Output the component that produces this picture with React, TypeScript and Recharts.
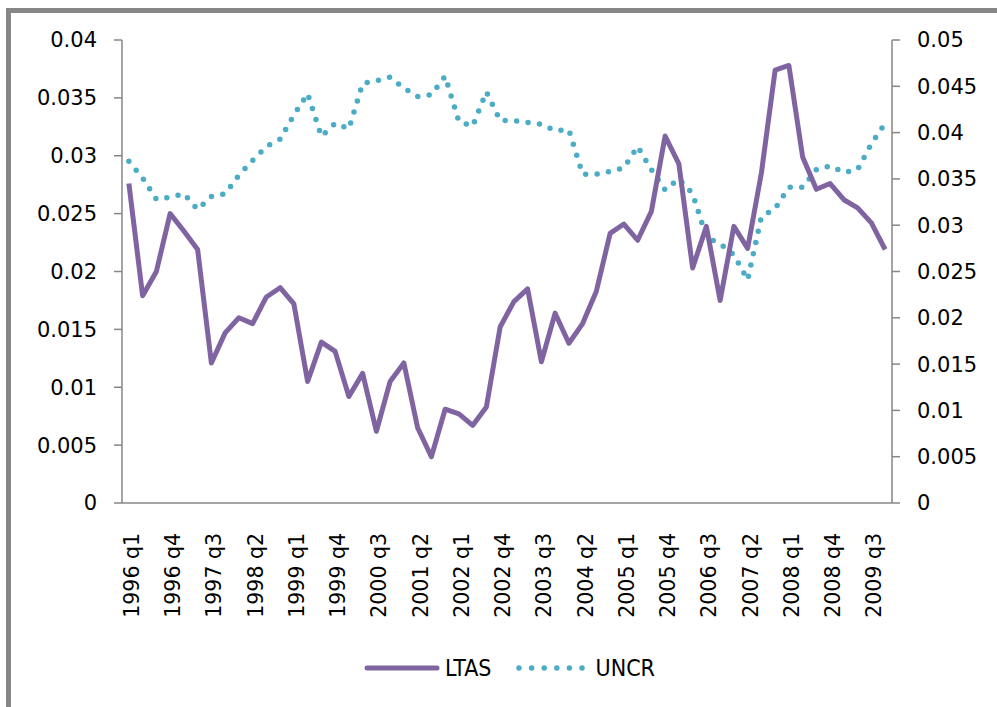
import { LineChart, Line, XAxis, YAxis, Legend } from "recharts";

// 1996 q1 .. 2009 q4
const quarters = [
  "1996 q1", "1996 q2", "1996 q3", "1996 q4",
  "1997 q1", "1997 q2", "1997 q3", "1997 q4",
  "1998 q1", "1998 q2", "1998 q3", "1998 q4",
  "1999 q1", "1999 q2", "1999 q3", "1999 q4",
  "2000 q1", "2000 q2", "2000 q3", "2000 q4",
  "2001 q1", "2001 q2", "2001 q3", "2001 q4",
  "2002 q1", "2002 q2", "2002 q3", "2002 q4",
  "2003 q1", "2003 q2", "2003 q3", "2003 q4",
  "2004 q1", "2004 q2", "2004 q3", "2004 q4",
  "2005 q1", "2005 q2", "2005 q3", "2005 q4",
  "2006 q1", "2006 q2", "2006 q3", "2006 q4",
  "2007 q1", "2007 q2", "2007 q3", "2007 q4",
  "2008 q1", "2008 q2", "2008 q3", "2008 q4",
  "2009 q1", "2009 q2", "2009 q3", "2009 q4",
];

const ltas = [
  0.0276, 0.0179, 0.02, 0.025, 0.0235, 0.0219, 0.0121, 0.0147,
  0.016, 0.0155, 0.0178, 0.0186, 0.0172, 0.0105, 0.0139, 0.0131,
  0.0092, 0.0112, 0.0062, 0.0105, 0.0121, 0.0065, 0.004, 0.0081,
  0.0077, 0.0067, 0.0083, 0.0152, 0.0174, 0.0185, 0.0122, 0.0164,
  0.0138, 0.0155, 0.0183, 0.0233, 0.0241, 0.0227, 0.0252, 0.0317,
  0.0293, 0.0203, 0.0239, 0.0175, 0.0239, 0.022, 0.0285, 0.0374,
  0.0378, 0.0299, 0.0271, 0.0276, 0.0262, 0.0255, 0.0242, 0.0219,
];

const uncr = [
  0.0369, 0.0351, 0.0328, 0.033, 0.0334, 0.0317, 0.0331, 0.0334,
  0.0354, 0.037, 0.0385, 0.0393, 0.0419, 0.0442, 0.0396, 0.041,
  0.0404, 0.0453, 0.0456, 0.046, 0.0448, 0.0439, 0.0441, 0.0461,
  0.0412, 0.0407, 0.0444, 0.0413, 0.0413, 0.0411, 0.0409, 0.0402,
  0.0403, 0.0355, 0.0355, 0.0358, 0.0362, 0.0385, 0.036, 0.0338,
  0.035, 0.0334, 0.0287, 0.028, 0.0268, 0.0241, 0.0309, 0.0318,
  0.0341, 0.0341, 0.036, 0.0364, 0.0357, 0.036, 0.0388, 0.041,
];

const labelTicks = [0, 3, 6, 9, 12, 15, 18, 21, 24, 27, 30, 33, 36, 39, 42, 45, 48, 51, 54];
const leftTicks = [0, 0.005, 0.01, 0.015, 0.02, 0.025, 0.03, 0.035, 0.04];
const rightTicks = [0, 0.005, 0.01, 0.015, 0.02, 0.025, 0.03, 0.035, 0.04, 0.045, 0.05];

const data = quarters.map((q, i) => ({ i, q, LTAS: ltas[i], UNCR: uncr[i] }));
// tick marks sit between quarters
const boundaryTicks = Array.from({ length: quarters.length + 1 }, (_, k) => k - 0.5);

const PURPLE = "#8064A2";
const AQUA = "#4BACC6";
const AXIS = "#868686";
const TICK_FONT = { fontFamily: "DejaVu Sans", fontSize: 21, fill: "#000" };

function QuarterTick(props: any) {
  const { x, y, payload } = props;
  const tx = x + 10;
  const ty = y + 29;
  return (
    <text
      x={tx}
      y={ty}
      transform={`rotate(-90, ${tx}, ${ty})`}
      textAnchor="end"
      fontFamily="DejaVu Sans"
      fontSize={20.5}
      fill="#000"
    >
      {quarters[payload.value]}
    </text>
  );
}

function ChartLegend() {
  const font = { fontFamily: "'Liberation Sans Narrow', 'DejaVu Sans Condensed', sans-serif", fontSize: 23, color: "#000" };
  return (
    <div style={{ display: "flex", alignItems: "center", justifyContent: "center", height: 30, paddingLeft: 22 }}>
      <svg width={76} height={8}>
        <line x1={3} y1={4} x2={73} y2={4} stroke={PURPLE} strokeWidth={5} strokeLinecap="round" />
      </svg>
      <span style={{ ...font, marginLeft: 5 }}>LTAS</span>
      <svg width={70} height={8} style={{ marginLeft: 24 }}>
        <line x1={3} y1={4} x2={67} y2={4} stroke={AQUA} strokeWidth={5.5} strokeLinecap="round" strokeDasharray="0 12.6" />
      </svg>
      <span style={{ ...font, marginLeft: 10 }}>UNCR</span>
    </div>
  );
}

export default function App() {
  return (
    <div style={{ position: "absolute", left: 0, top: 0, width: 997, height: 707, overflow: "hidden", background: "#fff" }}>
      <div
        style={{
          position: "absolute",
          left: 6,
          top: 8,
          width: 1010,
          height: 720,
          border: `5px solid ${AXIS}`,
          boxSizing: "border-box",
        }}
      />
      <div style={{ position: "absolute", left: 0, top: 0 }}>
        <LineChart width={997} height={707} data={data} margin={{ top: 40, right: 0, bottom: 172, left: 0 }}>
          <XAxis
            xAxisId="marks"
            type="number"
            domain={[-0.5, 55.5]}
            allowDataOverflow
            ticks={boundaryTicks}
            interval={0}
            height={1}
            axisLine={{ stroke: AXIS, strokeWidth: 1.5 }}
            tickLine={{ stroke: AXIS, strokeWidth: 1.5 }}
            tickSize={8}
            tick={false}
          />
          <XAxis
            xAxisId="x"
            dataKey="i"
            type="number"
            domain={[-0.5, 55.5]}
            allowDataOverflow
            ticks={labelTicks}
            interval={0}
            height={1}
            axisLine={false}
            tickLine={false}
            tickSize={0}
            tickMargin={0}
            tick={<QuarterTick />}
          />
          <YAxis
            yAxisId="l"
            orientation="left"
            width={122}
            domain={[0, 0.04]}
            ticks={leftTicks}
            interval={0}
            axisLine={{ stroke: AXIS, strokeWidth: 1.5 }}
            tickLine={{ stroke: AXIS, strokeWidth: 1.5 }}
            tickSize={8}
            tickMargin={17}
            tick={TICK_FONT}
          />
          <YAxis
            yAxisId="r"
            orientation="right"
            width={105}
            domain={[0, 0.05]}
            ticks={rightTicks}
            interval={0}
            axisLine={{ stroke: AXIS, strokeWidth: 1.5 }}
            tickLine={{ stroke: AXIS, strokeWidth: 1.5 }}
            tickSize={8}
            tickMargin={17}
            tick={TICK_FONT}
          />
          <Legend
            verticalAlign="bottom"
            content={() => <ChartLegend />}
            wrapperStyle={{ left: 0, width: 997, bottom: 24, height: 30 }}
          />
          <Line
            xAxisId="x"
            yAxisId="r"
            type="linear"
            dataKey="UNCR"
            stroke={AQUA}
            strokeWidth={5.5}
            strokeLinecap="round"
            strokeDasharray="0 11.5"
            dot={false}
            activeDot={false}
            isAnimationActive={false}
          />
          <Line
            xAxisId="x"
            yAxisId="l"
            type="linear"
            dataKey="LTAS"
            stroke={PURPLE}
            strokeWidth={5}
            strokeLinejoin="round"
            dot={false}
            activeDot={false}
            isAnimationActive={false}
          />
        </LineChart>
      </div>
    </div>
  );
}
